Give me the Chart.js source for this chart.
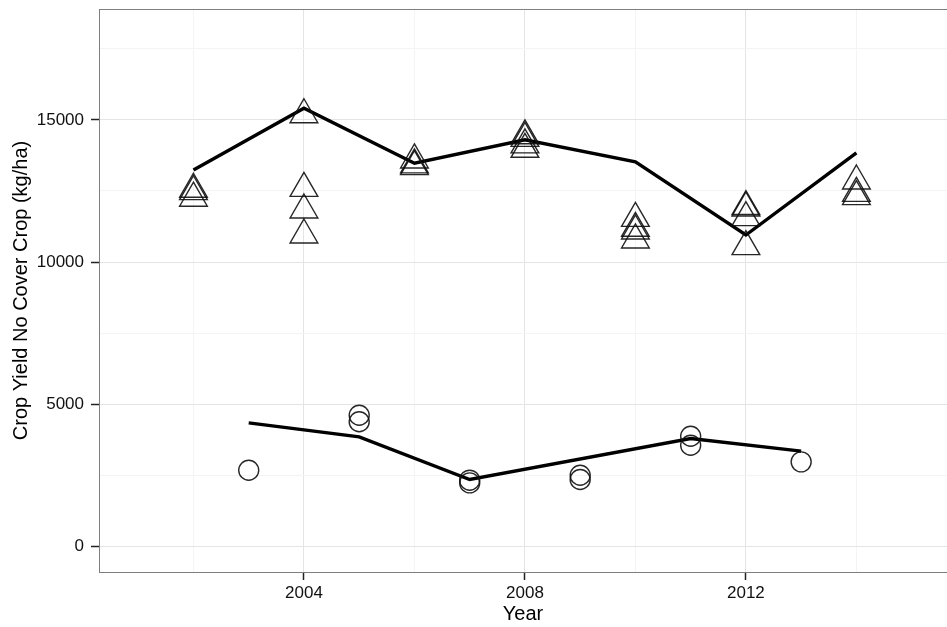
<!DOCTYPE html>
<html>
<head>
<meta charset="utf-8">
<script src="https://cdn.jsdelivr.net/npm/chart.js@4.4.1/dist/chart.umd.min.js"></script>
<style>
  html, body { margin: 0; padding: 0; background: #fff; }
  #wrap { width: 947px; height: 627px; }
</style>
</head>
<body>
<div id="wrap"><canvas id="yieldChart" width="947" height="627"></canvas></div>
<script>
// points drawn as triangles (no cover crop, high yield crop)
const triangleYears = [2002, 2002, 2002, 2004, 2004, 2004, 2004, 2006, 2006, 2006,
  2008, 2008, 2008, 2008, 2010, 2010, 2010, 2010, 2012, 2012, 2012, 2012, 2014, 2014, 2014];
const triangleYields = [12560, 12475, 12245, 15180, 12590, 11830, 10950, 13590, 13415, 13355,
  14440, 14350, 14120, 13965, 11535, 11185, 11090, 10775, 11950, 11900, 11560, 10540, 12850, 12415, 12300];

// points drawn as circles
const circleYears = [2003, 2005, 2005, 2007, 2007, 2009, 2009, 2011, 2011, 2013];
const circleYields = [2675, 4610, 4380, 2325, 2230, 2500, 2350, 3870, 3555, 2970];

// fitted lines
const upperLineYears = [2002, 2004, 2006, 2008, 2010, 2012, 2014];
const upperLineYields = [13235, 15410, 13475, 14300, 13520, 10950, 13840];
const lowerLineYears = [2003, 2005, 2007, 2011, 2013];
const lowerLineYields = [4340, 3850, 2350, 3790, 3345];

// axis ticks (major ones get labels)
const xTicks = [2002, 2004, 2006, 2008, 2010, 2012, 2014];
const xLabelled = [2004, 2008, 2012];
const yTicks = [0, 2500, 5000, 7500, 10000, 12500, 15000, 17500];
const yLabelled = [0, 5000, 10000, 15000];

function toPoints(xs, ys) {
  return xs.map((x, i) => ({ x: x, y: ys[i] }));
}

const borderPlugin = {
  id: "panelBorder",
  afterDatasetsDraw(chart) {
    const a = chart.chartArea;
    const ctx = chart.ctx;
    ctx.save();
    ctx.strokeStyle = "#7f7f7f";
    ctx.lineWidth = 1;
    ctx.beginPath();
    ctx.moveTo(a.left + 0.5, a.bottom);
    ctx.lineTo(a.left + 0.5, a.top + 0.5);
    ctx.lineTo(a.right, a.top + 0.5);
    ctx.moveTo(a.left, a.bottom + 0.5);
    ctx.lineTo(a.right, a.bottom + 0.5);
    ctx.stroke();
    ctx.restore();
  },
};

const tickFont = { family: "'Liberation Sans', Arial, sans-serif", size: 17 };
const titleFont = { family: "'Liberation Sans', Arial, sans-serif", size: 20 };

new Chart(document.getElementById("yieldChart").getContext("2d"), {
  type: "scatter",
  data: {
    datasets: [
      {
        label: "Triangles",
        data: toPoints(triangleYears, triangleYields),
        pointStyle: "triangle",
        pointRadius: 16,
        pointHoverRadius: 16,
        borderColor: "rgba(15, 15, 15, 0.9)",
        backgroundColor: "rgba(0, 0, 0, 0)",
        pointBorderWidth: 1.4,
      },
      {
        label: "Circles",
        data: toPoints(circleYears, circleYields),
        pointStyle: "circle",
        pointRadius: 10,
        pointHoverRadius: 10,
        borderColor: "rgba(15, 15, 15, 0.9)",
        backgroundColor: "rgba(0, 0, 0, 0)",
        pointBorderWidth: 1.4,
      },
      {
        label: "Upper fit",
        data: toPoints(upperLineYears, upperLineYields),
        showLine: true,
        pointRadius: 0,
        borderColor: "#000",
        borderWidth: 3.4,
        tension: 0,
      },
      {
        label: "Lower fit",
        data: toPoints(lowerLineYears, lowerLineYields),
        showLine: true,
        pointRadius: 0,
        borderColor: "#000",
        borderWidth: 3.4,
        tension: 0,
      },
    ],
  },
  options: {
    responsive: false,
    animation: false,
    layout: { autoPadding: false, padding: { top: 9, right: 0, left: 0, bottom: 0 } },
    plugins: {
      legend: { display: false },
      tooltip: { enabled: false },
    },
    scales: {
      x: {
        type: "linear",
        min: 2000.29,
        max: 2015.64,
        afterBuildTicks: (scale) => {
          scale.ticks = xTicks.map((v) => ({ value: v }));
        },
        afterFit: (scale) => {
          scale.height = 55;
          scale.paddingLeft = 0;
          scale.paddingRight = 0;
        },
        ticks: {
          color: "#111",
          font: tickFont,
          padding: 3,
          maxRotation: 0,
          autoSkip: false,
          callback: (v) => (xLabelled.includes(v) ? String(v) : ""),
        },
        grid: {
          color: (c) => (c.tick && xLabelled.includes(c.tick.value) ? "#e4e4e4" : "#f4f4f4"),
          tickColor: (c) => (c.tick && xLabelled.includes(c.tick.value) ? "#222" : "rgba(0,0,0,0)"),
          tickLength: 8,
          tickWidth: 1.5,
        },
        border: { display: true, color: "#7f7f7f", width: 1 },
        title: {
          display: true,
          text: "Year",
          color: "#000",
          font: titleFont,
          padding: { top: 0, bottom: 1 },
        },
      },
      y: {
        type: "linear",
        min: -905,
        max: 18900,
        afterBuildTicks: (scale) => {
          scale.ticks = yTicks.map((v) => ({ value: v }));
        },
        afterFit: (scale) => {
          scale.width = 99;
          scale.paddingTop = 0;
          scale.paddingBottom = 0;
        },
        ticks: {
          color: "#111",
          font: tickFont,
          padding: 7,
          autoSkip: false,
          callback: (v) => (yLabelled.includes(v) ? String(v) : ""),
        },
        grid: {
          color: (c) => (c.tick && yLabelled.includes(c.tick.value) ? "#e4e4e4" : "#f4f4f4"),
          tickColor: (c) => (c.tick && yLabelled.includes(c.tick.value) ? "#222" : "rgba(0,0,0,0)"),
          tickLength: 8,
          tickWidth: 1.5,
        },
        border: { display: true, color: "#7f7f7f", width: 1 },
        title: {
          display: true,
          text: "Crop Yield No Cover Crop (kg/ha)",
          color: "#000",
          font: titleFont,
          padding: { top: 9, bottom: 0 },
        },
      },
    },
  },
  plugins: [borderPlugin],
});
</script>
</body>
</html>
